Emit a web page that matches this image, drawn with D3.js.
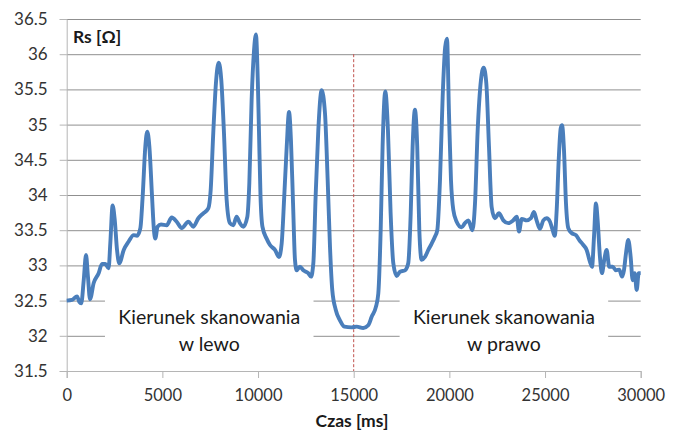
<!DOCTYPE html>
<html>
<head>
<meta charset="utf-8">
<script src="https://cdn.jsdelivr.net/npm/d3@7"></script>
<style>
  html, body { margin: 0; padding: 0; background: #fff; }
  svg { display: block; }
</style>
</head>
<body>
<svg id="chart" width="678" height="430"></svg>
<script>
// Series resistance over time during the scan
const timeMs = [
  0, 280, 540, 660, 760, 890, 1010, 1110, 1220, 1410, 1670, 1845, 2020, 2190, 2280, 2400,
  2510, 2630, 2750, 2980, 3240, 3500, 3675, 3850, 3970, 4110, 4210, 4320, 4460, 4560, 4630,
  4750, 4930, 5225, 5490, 5750, 6010, 6360, 6620, 6880, 7140, 7400, 7525, 7660, 7800, 7945,
  8080, 8220, 8360, 8530, 8705, 8880, 9055, 9230, 9440, 9545, 9665, 9790, 9890, 9990, 10050,
  10130, 10230, 10450, 10625, 10885, 11095, 11235, 11370, 11500, 11620, 11720, 11830, 11930,
  12020, 12190, 12365, 12625, 12770, 12890, 13010, 13150, 13325, 13500, 13640, 13760, 13880,
  14060, 14280, 14510, 14890, 15155, 15500, 15760, 15940, 16160, 16285, 16410, 16510, 16650,
  16790, 16930, 17070, 17245, 17420, 17680, 17850, 17980, 18080, 18200, 18320, 18430, 18550,
  18725, 18900, 19075, 19250, 19370, 19510, 19650, 19780, 19875, 19980, 20085, 20205, 20380,
  20640, 20815, 20990, 21200, 21340, 21480, 21650, 21790, 21930, 22070, 22210, 22380, 22590,
  22820, 23080, 23340, 23520, 23640, 23780, 24040, 24265, 24420, 24560, 24735, 24910, 25085,
  25260, 25400, 25505, 25610, 25715, 25820, 25890, 25990, 26095, 26215, 26390, 26615, 26790,
  27000, 27175, 27350, 27455, 27560, 27660, 27750, 27870, 27975, 28095, 28220, 28355, 28535,
  28705, 28880, 29020, 29125, 29230, 29350, 29475, 29580, 29685, 29790, 29895, 30000
];
const rsOhm = [
  32.50, 32.51, 32.56, 32.48, 32.46, 32.79, 33.15, 32.84, 32.52, 32.75, 32.89, 33.02, 33.02, 32.96, 33.32, 33.85,
  33.65, 33.22, 33.03, 33.22, 33.34, 33.43, 33.42, 33.53, 33.98, 34.69, 34.90, 34.69, 33.98, 33.50, 33.38,
  33.55, 33.58, 33.57, 33.68, 33.62, 33.53, 33.62, 33.55, 33.67, 33.74, 33.81, 34.07, 34.88, 35.59, 35.88,
  35.63, 34.88, 33.93, 33.60, 33.57, 33.69, 33.60, 33.55, 33.69, 34.17, 35.35, 36.05, 36.28, 35.60, 34.90,
  33.98, 33.55, 33.38, 33.29, 33.22, 33.12, 33.31, 33.98, 34.69, 35.18, 34.78, 33.88, 33.08,
  32.93, 32.98, 32.93, 32.89, 32.84, 33.03, 33.98, 34.92, 35.49, 35.16, 34.21, 33.27, 32.65,
  32.37, 32.22, 32.13, 32.12, 32.13, 32.11, 32.15, 32.27, 32.41, 32.60, 33.50, 34.69, 35.47,
  34.92, 33.74, 33.03, 32.85, 32.91, 32.93, 33.03, 33.74, 34.69, 35.21, 34.69, 33.50, 33.08,
  33.12, 33.22, 33.31, 33.41, 33.50, 34.21, 35.40, 36.10, 36.22, 35.16, 34.21, 33.79, 33.62,
  33.54, 33.60, 33.64, 33.50, 33.88, 34.92, 35.63, 35.81, 35.59, 34.69, 33.83, 33.67, 33.74,
  33.64, 33.60, 33.64, 33.69, 33.48, 33.66, 33.64, 33.67, 33.76, 33.64, 33.52, 33.64, 33.67,
  33.62, 33.50, 33.42, 33.79, 34.50, 34.95, 34.99, 34.64, 33.88, 33.53, 33.46, 33.43, 33.36,
  33.29, 33.22, 33.05, 32.98, 33.41, 33.88, 33.64, 33.12, 32.89, 33.08, 33.22, 32.98, 32.98,
  32.93, 32.94, 32.84, 32.93, 33.17, 33.36, 33.12, 32.79, 32.89, 32.65, 32.89, 32.89
];

const yTicks = [31.5, 32, 32.5, 33, 33.5, 34, 34.5, 35, 35.5, 36, 36.5];
const xTicks = [0, 5000, 10000, 15000, 20000, 25000, 30000];
const yLabel = "Rs [Ω]";
const xLabel = "Czas [ms]";
const directionLabels = [
  { lines: ["Kierunek skanowania", "w lewo"], from: 2000, to: 12900 },
  { lines: ["Kierunek skanowania", "w prawo"], from: 17400, to: 28300 }
];
const turnTime = 15000;

const svg = d3.select("#chart");
const plotLeft = 66.7, plotRight = 640.7, plotTop = 19, plotBottom = 371;
const font = "Lato, 'Open Sans', sans-serif";

const x = d3.scaleLinear().domain([0, 30000]).range([plotLeft, plotRight]);
const y = d3.scaleLinear().domain([31.5, 36.5]).range([plotBottom, plotTop]);

// horizontal gridlines
svg.append("g")
  .attr("transform", `translate(${plotLeft},0)`)
  .call(d3.axisLeft(y).tickValues(yTicks).tickSize(-(plotRight - plotLeft)).tickFormat(""))
  .call(g => g.select(".domain").remove())
  .call(g => g.selectAll("line").attr("stroke", "#8f8f8f").attr("stroke-width", 1));

// y axis
const yAxis = svg.append("g")
  .attr("transform", `translate(${plotLeft},0)`)
  .call(d3.axisLeft(y).tickValues(yTicks).tickSize(7).tickPadding(12).tickFormat(d3.format("")));
yAxis.select(".domain").attr("stroke", "#b5b5b5");
yAxis.selectAll("line").attr("stroke", "#b5b5b5");
yAxis.selectAll("text").attr("font-family", font).attr("font-size", 17).attr("fill", "#333");

// x axis
const xAxis = svg.append("g")
  .attr("transform", `translate(0,${plotBottom})`)
  .call(d3.axisBottom(x).tickValues(xTicks).tickSize(7).tickPadding(11).tickFormat(d3.format("")));
xAxis.select(".domain").attr("stroke", "#b5b5b5");
xAxis.selectAll("line").attr("stroke", "#b5b5b5");
xAxis.selectAll("text").attr("font-family", font).attr("font-size", 16.5).attr("fill", "#333");

// annotation boxes
directionLabels.forEach(d => {
  const cx = (x(d.from) + x(d.to)) / 2;
  svg.append("rect")
    .attr("x", x(d.from)).attr("width", x(d.to) - x(d.from))
    .attr("y", y(32.62)).attr("height", y(31.62) - y(32.62))
    .attr("fill", "#fff");
  d.lines.forEach((t, i) => {
    svg.append("text")
      .attr("x", cx).attr("y", 324 + i * 27)
      .attr("text-anchor", "middle")
      .attr("font-family", font).attr("font-size", 19.5).attr("fill", "#1a1a1a")
      .text(t);
  });
});

// turning point marker
svg.append("line")
  .attr("x1", x(turnTime)).attr("x2", x(turnTime))
  .attr("y1", y(36)).attr("y2", y(31.5))
  .attr("stroke", "#c0504d").attr("stroke-width", 1)
  .attr("stroke-dasharray", "3,2");

// series
const series = timeMs.map((t, i) => [t, rsOhm[i]]);
svg.append("path")
  .datum(series)
  .attr("fill", "none")
  .attr("stroke", "#4a7ebb")
  .attr("stroke-width", 3.9)
  .attr("stroke-linejoin", "round")
  .attr("d", d3.line().x(d => x(d[0])).y(d => y(d[1])).curve(d3.curveMonotoneX));

// axis titles
svg.append("text")
  .attr("x", 73).attr("y", 43)
  .attr("font-family", font).attr("font-size", 17.5).attr("font-weight", "bold").attr("fill", "#1a1a1a")
  .text(yLabel);
svg.append("text")
  .attr("x", 352).attr("y", 427)
  .attr("text-anchor", "middle")
  .attr("font-family", font).attr("font-size", 17.5).attr("font-weight", "bold").attr("fill", "#1a1a1a")
  .text(xLabel);
</script>
</body>
</html>
